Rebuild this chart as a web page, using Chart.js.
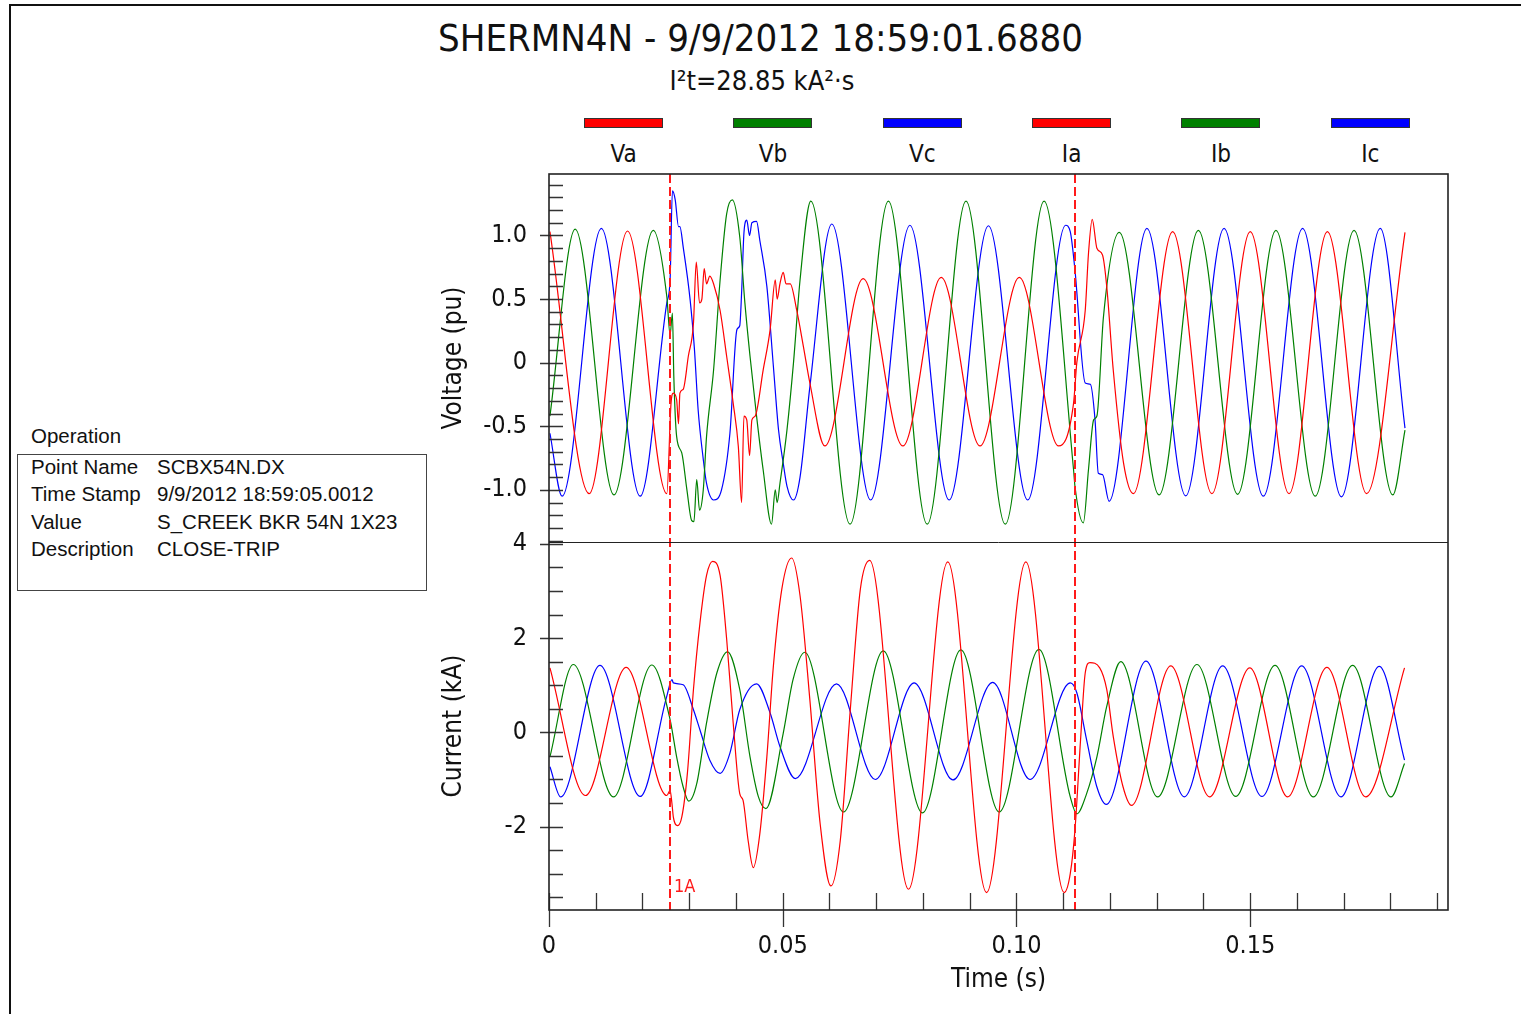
<!DOCTYPE html>
<html>
<head>
<meta charset="utf-8">
<script src="https://cdn.jsdelivr.net/npm/chart.js@4.4.1/dist/chart.umd.min.js"></script>
<style>
  html, body { margin: 0; padding: 0; background: #fff; }
  body { width: 1521px; height: 1014px; overflow: hidden; position: relative;
         font-family: "DejaVu Sans Condensed", "DejaVu Sans", sans-serif; color: #111; }
  #frame { position: absolute; left: 9px; top: 4px; width: 1600px; height: 1100px;
           border-left: 2px solid #111; border-top: 2px solid #111; }
  #title { position: absolute; left: 0; top: 19px; width: 1521px; text-align: center;
           font-size: 38px; line-height: 38px; white-space: nowrap; }
  #subtitle { position: absolute; left: 0; top: 67px; width: 1524px; text-align: center;
              font-size: 27px; line-height: 27px; white-space: nowrap; }
  #legend { position: absolute; left: 549px; top: 118px; width: 896px; display: flex; }
  .lg { flex: 1; text-align: center; }
  .lg .sw { width: 77px; height: 8px; margin: 0 auto; border: 1px solid #333; }
  .lg .nm { font-size: 24px; line-height: 24px; margin-top: 14px; }
  .info { position: absolute; font-family: "Liberation Sans", Arial, sans-serif;
          font-size: 20.5px; line-height: 28px; white-space: nowrap; color: #111; }
  #opBox { position: absolute; left: 17px; top: 454px; width: 408px; height: 135px;
           border: 1px solid #444; }
  #c { position: absolute; left: 430px; top: 160px; }
</style>
</head>
<body>
<div id="frame"></div>
<div id="title">SHERMN4N - 9/9/2012 18:59:01.6880</div>
<div id="subtitle">I²t=28.85 kA²·s</div>
<div id="legend"></div>
<div class="info" style="left:31px;top:422px">Operation</div>
<div id="opBox"></div>
<div id="infoRows"></div>
<canvas id="c" width="1091" height="854"></canvas>

<script>
// series names / colours
const voltNames = ['Va', 'Vb', 'Vc'];
const currNames = ['Ia', 'Ib', 'Ic'];
const phaseColors = ['#ff0000', '#008000', '#0000ff'];

// event markers (s)
const markerTimes = [0.0259, 0.1125];
const markerLabel = '1A';

// info panel
const infoLabels = ['Point Name', 'Time Stamp', 'Value', 'Description'];
const infoValues = ['SCBX54N.DX', '9/9/2012 18:59:05.0012', 'S_CREEK BKR 54N 1X23', 'CLOSE-TRIP'];

// voltages, pu  [time s, value]
const va = [
  [0.0002, 1.03], [0.0086, -1.03], [0.0168, 1.035], [0.0252, -1.03],
  [0.0261, -0.32], [0.0266, -0.24], [0.0273, -0.29], [0.0277, -0.48], [0.0280, -0.24],
  [0.0287, -0.21], [0.0298, 0.05], [0.0309, 0.31], [0.0315, 0.79], [0.0322, 0.47],
  [0.0327, 0.50], [0.0332, 0.74], [0.0337, 0.62], [0.0344, 0.68], [0.0352, 0.62],
  [0.0366, 0.41], [0.0380, 0.05], [0.0394, -0.32], [0.0405, -0.66], [0.0412, -1.10],
  [0.0417, -0.42], [0.0423, -0.45], [0.0429, -0.73], [0.0434, -0.45], [0.0441, -0.42],
  [0.0458, -0.06], [0.0473, 0.26], [0.0484, 0.65], [0.0488, 0.50], [0.0494, 0.62],
  [0.0501, 0.71], [0.0507, 0.62], [0.0516, 0.62], [0.0530, 0.41], [0.0544, 0.13],
  [0.0558, -0.16], [0.0590, -0.655], [0.0672, 0.66], [0.0757, -0.655], [0.0839, 0.67],
  [0.0922, -0.655], [0.1006, 0.67], [0.1090, -0.655], [0.1122, -0.32], [0.1129, 0.00],
  [0.1147, 0.41], [0.1154, 0.86], [0.1162, 1.127], [0.1172, 0.90], [0.1184, 0.846],
  [0.1193, 0.60], [0.1207, -0.06], [0.1229, -0.79], [0.1250, -1.03], [0.1334, 1.03],
  [0.1418, -1.03], [0.1500, 1.03], [0.1583, -1.03], [0.1665, 1.03], [0.1749, -1.03],
  [0.1831, 1.024]
];
const vb = [
  [0.0002, -0.42], [0.0056, 1.05], [0.0139, -1.04], [0.0223, 1.04], [0.0252, 0.52],
  [0.0259, 0.22], [0.0264, 0.39], [0.0267, -0.11], [0.0273, -0.58], [0.0284, -0.71],
  [0.0295, -1.00], [0.0305, -1.24], [0.0310, -1.25], [0.0316, -0.92], [0.0322, -1.16],
  [0.0330, -1.00], [0.0337, -0.58], [0.0352, -0.06], [0.0366, 0.65], [0.0380, 1.17],
  [0.0392, 1.28], [0.0408, 0.99], [0.0419, 0.47], [0.0430, 0.05], [0.0444, -0.42],
  [0.0458, -0.84], [0.0476, -1.27], [0.0484, -1.00], [0.0488, -1.10], [0.0494, -0.95],
  [0.0509, -0.53], [0.0523, 0.00], [0.0537, 0.65], [0.0560, 1.27], [0.0644, -1.27],
  [0.0726, 1.27], [0.0809, -1.27], [0.0892, 1.27], [0.0976, -1.27], [0.1059, 1.27],
  [0.1122, -0.84], [0.1125, -0.97], [0.1143, -1.26], [0.1154, -0.84], [0.1165, -0.45],
  [0.1172, -0.42], [0.1186, 0.36], [0.1220, 1.024], [0.1305, -1.04], [0.1389, 1.04],
  [0.1473, -1.035], [0.1555, 1.04], [0.1639, -1.05], [0.1722, 1.04], [0.1805, -1.04],
  [0.1831, -0.53]
];
const vc = [
  [0.0002, -0.555], [0.0028, -1.05], [0.0112, 1.056], [0.0195, -1.05], [0.0252, 0.47],
  [0.0259, 0.65], [0.0264, 1.35], [0.0270, 1.28], [0.0277, 1.07], [0.0280, 1.07],
  [0.0287, 0.91], [0.0302, 0.49], [0.0311, 0.11], [0.0319, -0.37], [0.0330, -0.76],
  [0.0337, -0.95], [0.0352, -1.08], [0.0369, -1.00], [0.0387, -0.555], [0.0402, 0.26],
  [0.0408, 0.29], [0.0412, 0.55], [0.0417, 1.02], [0.0423, 1.12], [0.0429, 1.00],
  [0.0434, 1.10], [0.0444, 1.11], [0.0451, 0.96], [0.0466, 0.60], [0.0480, -0.03],
  [0.0491, -0.53], [0.0501, -0.79], [0.0509, -0.97], [0.0523, -1.08], [0.0537, -0.90],
  [0.0558, -0.19], [0.0605, 1.09], [0.0688, -1.08], [0.0772, 1.08], [0.0856, -1.08],
  [0.0940, 1.076], [0.1024, -1.08], [0.1105, 1.08], [0.1115, 1.03], [0.1125, 0.73],
  [0.1147, -0.16], [0.1158, -0.17], [0.1168, -0.45], [0.1175, -0.87], [0.1184, -0.88],
  [0.1198, -1.09], [0.1279, 1.056], [0.1362, -1.047], [0.1444, 1.056], [0.1528, -1.05],
  [0.1612, 1.056], [0.1695, -1.055], [0.1778, 1.056], [0.1831, -0.515]
];

// currents, kA  [time s, value]
const ia = [
  [0.0002, 1.37], [0.0078, -1.34], [0.0165, 1.38], [0.0252, -1.34], [0.0259, -1.23],
  [0.0263, -1.51], [0.0266, -1.80], [0.0275, -1.98], [0.0284, -1.80], [0.0296, -0.87],
  [0.0309, 0.91], [0.0323, 2.33], [0.0337, 3.33], [0.0350, 3.63], [0.0366, 3.33],
  [0.0380, 1.98], [0.0394, 0.20], [0.0408, -1.30], [0.0415, -1.44], [0.0426, -2.30],
  [0.0437, -2.87], [0.0451, -2.15], [0.0466, -0.52], [0.0480, 1.41], [0.0498, 3.04],
  [0.0519, 3.70], [0.0537, 2.90], [0.0558, 0.69], [0.0580, -1.94], [0.0603, -3.26],
  [0.0623, -2.30], [0.0645, 0.55], [0.0666, 3.04], [0.0686, 3.65], [0.0769, -3.33],
  [0.0853, 3.62], [0.0936, -3.40], [0.1020, 3.62], [0.1102, -3.40], [0.1115, -3.00],
  [0.1125, -2.08], [0.1137, -0.16], [0.1147, 1.26], [0.1157, 1.48], [0.1178, 1.37],
  [0.1193, 0.91], [0.1207, -0.09], [0.1228, -1.16], [0.1246, -1.55], [0.1330, 1.41],
  [0.1413, -1.37], [0.1499, 1.37], [0.1580, -1.37], [0.1664, 1.38], [0.1747, -1.37],
  [0.1830, 1.37]
];
const ib = [
  [0.0002, -0.52], [0.0052, 1.44], [0.0138, -1.37], [0.0220, 1.43], [0.0259, 0.27],
  [0.0273, -0.52], [0.0287, -1.16], [0.0299, -1.46], [0.0316, -1.09], [0.0337, 0.20],
  [0.0359, 1.26], [0.0382, 1.71], [0.0408, 0.91], [0.0430, -0.52], [0.0448, -1.37],
  [0.0464, -1.62], [0.0501, -0.02], [0.0522, 1.12], [0.0547, 1.70], [0.0630, -1.69],
  [0.0715, 1.73], [0.0799, -1.71], [0.0881, 1.75], [0.0963, -1.69], [0.1048, 1.76],
  [0.1115, -1.37], [0.1129, -1.73], [0.1150, -1.30], [0.1172, -0.52], [0.1193, 0.55],
  [0.1223, 1.50], [0.1302, -1.37], [0.1386, 1.44], [0.1469, -1.36], [0.1553, 1.42],
  [0.1635, -1.37], [0.1719, 1.42], [0.1801, -1.37], [0.1830, -0.66]
];
const ic = [
  [0.0002, -0.73], [0.0025, -1.37], [0.0109, 1.42], [0.0195, -1.36], [0.0252, 0.77],
  [0.0263, 1.12], [0.0266, 1.05], [0.0287, 1.01], [0.0309, 0.48], [0.0323, 0.05],
  [0.0344, -0.59], [0.0366, -0.87], [0.0387, -0.44], [0.0408, 0.48], [0.0444, 1.03],
  [0.0473, 0.41], [0.0494, -0.30], [0.0527, -0.98], [0.0615, 1.03], [0.0698, -1.00],
  [0.0781, 1.05], [0.0864, -1.01], [0.0949, 1.06], [0.1029, -1.00], [0.1115, 1.05],
  [0.1129, 0.84], [0.1150, -0.16], [0.1172, -1.16], [0.1192, -1.53], [0.1277, 1.51],
  [0.1359, -1.37], [0.1441, 1.41], [0.1525, -1.36], [0.1610, 1.41], [0.1694, -1.37],
  [0.1776, 1.40], [0.1830, -0.59]
];

const FONT = '"DejaVu Sans Condensed", "DejaVu Sans", sans-serif';

// legend + info panel
const legendEl = document.getElementById('legend');
voltNames.concat(currNames).forEach((n, i) => {
  const d = document.createElement('div');
  d.className = 'lg';
  d.innerHTML = '<div class="sw" style="background:' + phaseColors[i % 3] + '"></div><div class="nm">' + n + '</div>';
  legendEl.appendChild(d);
});
const rowsEl = document.getElementById('infoRows');
infoLabels.forEach((lab, i) => {
  const top = Math.round(453 + i * 27.3);
  rowsEl.insertAdjacentHTML('beforeend',
    '<div class="info" style="left:31px;top:' + top + 'px">' + lab + '</div>' +
    '<div class="info" style="left:157px;top:' + top + 'px">' + infoValues[i] + '</div>');
});

function toXY(arr) { return arr.map(p => ({x: p[0], y: p[1]})); }

const datasets = [];
[va, vb, vc].forEach((s, i) => datasets.push({
  label: voltNames[i], data: toXY(s), yAxisID: 'yV', borderColor: phaseColors[i]
}));
[ia, ib, ic].forEach((s, i) => datasets.push({
  label: currNames[i], data: toXY(s), yAxisID: 'yI', borderColor: phaseColors[i]
}));
datasets.forEach(d => {
  d.borderWidth = 1.2;
  d.pointRadius = 0;
  d.cubicInterpolationMode = 'monotone';
  d.fill = false;
});

// frame, inward tick marks, event markers
const scopeDecor = {
  id: 'scopeDecor',
  afterDatasetsDraw(chart) {
    const {ctx, chartArea: a, scales} = chart;
    ctx.save();
    ctx.strokeStyle = '#ff1a1a';
    ctx.lineWidth = 2;
    ctx.setLineDash([9, 4]);
    markerTimes.forEach(t => {
      const px = Math.round(scales.x.getPixelForValue(t));
      ctx.beginPath(); ctx.moveTo(px, a.top); ctx.lineTo(px, a.bottom); ctx.stroke();
    });
    ctx.setLineDash([]);
    ctx.fillStyle = '#ff1a1a';
    ctx.font = '18px ' + FONT;
    ctx.fillText(markerLabel, Math.round(scales.x.getPixelForValue(markerTimes[0])) + 4, a.bottom - 18);

    ctx.strokeStyle = '#333';
    ctx.lineWidth = 1.3;
    ctx.beginPath();
    scales.yV.ticks.forEach(tk => {
      const y = Math.round(scales.yV.getPixelForValue(tk.value)) + 0.5;
      const major = Math.abs(tk.value * 2 - Math.round(tk.value * 2)) < 1e-6;
      ctx.moveTo(major ? a.left - 9 : a.left, y); ctx.lineTo(a.left + 14, y);
    });
    scales.yI.ticks.forEach(tk => {
      const y = Math.round(scales.yI.getPixelForValue(tk.value)) + 0.5;
      const major = Math.abs(tk.value / 2 - Math.round(tk.value / 2)) < 1e-6;
      ctx.moveTo(major ? a.left - 9 : a.left, y); ctx.lineTo(a.left + 14, y);
    });
    scales.x.ticks.forEach(tk => {
      const x = Math.round(scales.x.getPixelForValue(tk.value)) + 0.5;
      const major = Math.round(tk.value * 100) % 5 === 0;
      ctx.moveTo(x, major ? a.bottom + 17 : a.bottom); ctx.lineTo(x, a.bottom - 17);
    });
    ctx.stroke();

    ctx.strokeStyle = '#222';
    ctx.lineWidth = 1.6;
    ctx.strokeRect(a.left, a.top, a.right - a.left, a.bottom - a.top);
    ctx.lineWidth = 1;
    const sep = Math.round(scales.yI.top) + 0.5;
    ctx.beginPath(); ctx.moveTo(a.left, sep); ctx.lineTo(a.right, sep); ctx.stroke();
    ctx.restore();
  }
};

const tickFont = {family: FONT, size: 25};
const titleFont = {family: FONT, size: 26};

function fixY(s) { s.width = 119; s.paddingTop = 0; s.paddingBottom = 0; }

new Chart(document.getElementById('c'), {
  type: 'line',
  data: {datasets: datasets},
  plugins: [scopeDecor],
  options: {
    responsive: false,
    animation: false,
    events: [],
    layout: {padding: {top: 14, right: 73, left: 0, bottom: 0}},
    plugins: {legend: {display: false}, tooltip: {enabled: false}},
    scales: {
      x: {
        type: 'linear', min: 0, max: 0.1923,
        grid: {display: false, drawTicks: false}, border: {display: false},
        ticks: {
          stepSize: 0.01, includeBounds: false, autoSkip: false, maxRotation: 0,
          padding: 21, color: '#111', font: tickFont,
          callback: v => {
            const k = Math.round(v * 100);
            if (k % 5 !== 0) return '';
            return k === 0 ? '0' : (k / 100).toFixed(2);
          }
        },
        title: {display: true, text: 'Time (s)', color: '#111', font: titleFont, padding: {top: 0, bottom: 18}},
        afterFit: s => { s.height = 104; s.paddingLeft = 0; s.paddingRight = 0; }
      },
      yV: {
        type: 'linear', position: 'left', stack: 'scope', stackWeight: 1, weight: 2,
        min: -1.41, max: 1.483,
        grid: {display: false, drawTicks: false}, border: {display: false},
        ticks: {
          stepSize: 0.1, includeBounds: false, autoSkip: false, padding: 22, color: '#111', font: tickFont,
          callback: v => {
            if (Math.abs(v * 2 - Math.round(v * 2)) > 1e-6) return '';
            return Math.abs(v) < 1e-9 ? '0' : v.toFixed(1);
          }
        },
        title: {display: true, text: 'Voltage (pu)', color: '#111', font: titleFont, padding: {top: 9, bottom: 0}},
        afterFit: fixY
      },
      yI: {
        type: 'linear', position: 'left', stack: 'scope', stackWeight: 1, weight: 1,
        min: -3.77, max: 4.04,
        grid: {display: false, drawTicks: false}, border: {display: false},
        ticks: {
          stepSize: 0.5, includeBounds: false, autoSkip: false, padding: 22, color: '#111', font: tickFont,
          callback: v => (Math.abs(v / 2 - Math.round(v / 2)) < 1e-6 ? String(Math.round(v)) : '')
        },
        title: {display: true, text: 'Current (kA)', color: '#111', font: titleFont, padding: {top: 9, bottom: 0}},
        afterFit: fixY
      }
    }
  }
});
</script>
</body>
</html>
